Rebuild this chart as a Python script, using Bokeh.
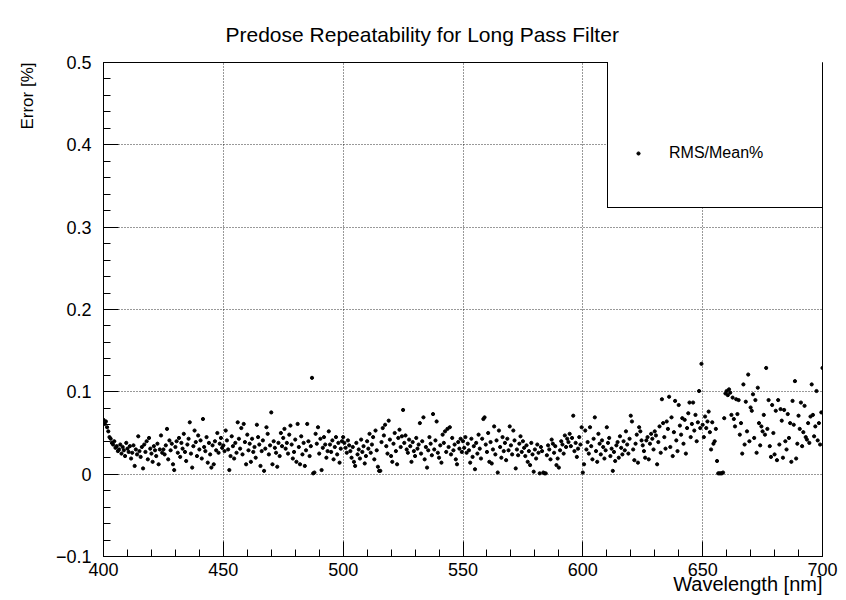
import numpy as np
from bokeh.plotting import figure
from bokeh.models import Range1d, FixedTicker, Legend, LegendItem, Title
from bokeh.embed import file_html
from bokeh.resources import INLINE

# wavelength grid (nm), 0.5 nm step
wavelength = np.arange(400.0, 700.01, 0.5)

# RMS/Mean%, in 25 nm blocks
rms_400 = [0.066,0.061,0.064,0.057,0.052,0.045,0.043,0.038,0.036,0.040,
           0.032,0.034,0.028,0.030,0.036,0.025,0.033,0.029,0.022,0.038,
           0.031,0.027,0.034,0.019,0.026,0.035,0.010,0.030,0.024,0.046,
           0.028,0.021,0.033,0.007,0.036,0.027,0.040,0.018,0.044,0.031,
           0.025,0.015,0.034,0.029,0.022,0.037,0.012,0.030,0.047,0.026]
rms_425 = [0.030,0.024,0.035,0.055,0.018,0.041,0.029,0.037,0.012,0.005,
           0.033,0.040,0.026,0.044,0.021,0.038,0.031,0.049,0.027,0.016,
           0.036,0.043,0.063,0.025,0.008,0.034,0.053,0.039,0.022,0.047,
           0.030,0.041,0.019,0.067,0.033,0.028,0.045,0.014,0.038,0.024,
           0.008,0.035,0.012,0.040,0.029,0.050,0.026,0.037,0.044,0.032]
rms_450 = [0.035,0.028,0.053,0.041,0.030,0.005,0.022,0.046,0.034,0.019,
           0.038,0.026,0.063,0.043,0.031,0.056,0.024,0.061,0.039,0.012,
           0.048,0.029,0.037,0.015,0.043,0.027,0.033,0.020,0.060,0.045,
           0.036,0.010,0.028,0.041,0.004,0.031,0.057,0.049,0.024,0.035,
           0.075,0.012,0.040,0.032,0.026,0.009,0.038,0.022,0.050,0.034]
rms_475 = [0.044,0.055,0.031,0.038,0.025,0.048,0.059,0.036,0.019,0.027,
           0.042,0.015,0.061,0.033,0.012,0.046,0.024,0.038,0.010,0.029,
           0.061,0.040,0.022,0.034,0.117,0.001,0.002,0.049,0.037,0.057,
           0.025,0.043,0.005,0.032,0.045,0.036,0.020,0.028,0.052,0.036,
           0.027,0.041,0.018,0.033,0.045,0.024,0.038,0.014,0.031,0.040]
rms_500 = [0.045,0.038,0.032,0.026,0.041,0.035,0.028,0.020,0.033,0.015,
           0.010,0.038,0.024,0.030,0.019,0.042,0.027,0.034,0.013,0.022,
           0.040,0.031,0.049,0.026,0.036,0.045,0.018,0.053,0.029,0.009,
           0.004,0.004,0.039,0.056,0.047,0.060,0.034,0.025,0.065,0.042,
           0.022,0.015,0.037,0.050,0.028,0.012,0.044,0.054,0.033,0.046]
rms_525 = [0.078,0.038,0.047,0.030,0.026,0.042,0.034,0.015,0.039,0.028,
           0.022,0.044,0.031,0.036,0.062,0.025,0.040,0.069,0.018,0.033,
           0.008,0.029,0.045,0.037,0.023,0.073,0.030,0.041,0.064,0.026,
           0.020,0.035,0.014,0.048,0.038,0.052,0.027,0.055,0.033,0.057,
           0.024,0.044,0.029,0.036,0.018,0.012,0.039,0.031,0.043,0.027]
rms_550 = [0.040,0.032,0.045,0.026,0.037,0.029,0.014,0.043,0.021,0.034,
           0.006,0.038,0.025,0.048,0.031,0.019,0.043,0.067,0.069,0.036,
           0.027,0.050,0.015,0.039,0.013,0.030,0.058,0.024,0.041,0.002,
           0.053,0.033,0.020,0.045,0.028,0.038,0.017,0.043,0.029,0.058,
           0.035,0.024,0.053,0.041,0.007,0.030,0.023,0.037,0.046,0.027]
rms_575 = [0.040,0.032,0.022,0.035,0.015,0.028,0.011,0.038,0.024,0.003,
           0.030,0.019,0.036,0.026,0.001,0.033,0.028,0.002,0.001,0.001,
           0.023,0.035,0.030,0.018,0.042,0.037,0.026,0.034,0.011,0.019,
           0.008,0.029,0.040,0.036,0.025,0.047,0.033,0.043,0.039,0.049,
           0.034,0.044,0.071,0.028,0.038,0.021,0.031,0.045,0.036,0.057]
rms_600 = [0.002,0.012,0.053,0.030,0.039,0.025,0.057,0.034,0.018,0.043,
           0.069,0.028,0.015,0.049,0.037,0.024,0.041,0.033,0.019,0.029,
           0.057,0.038,0.044,0.022,0.031,0.004,0.027,0.016,0.035,0.039,
           0.020,0.046,0.032,0.024,0.040,0.029,0.052,0.036,0.025,0.043,
           0.071,0.064,0.030,0.017,0.037,0.048,0.014,0.057,0.052,0.041]
rms_625 = [0.035,0.028,0.020,0.041,0.045,0.018,0.037,0.049,0.043,0.030,
           0.052,0.047,0.012,0.039,0.058,0.026,0.091,0.062,0.045,0.031,
           0.064,0.055,0.094,0.033,0.069,0.022,0.051,0.089,0.041,0.028,
           0.084,0.059,0.048,0.068,0.037,0.066,0.025,0.056,0.074,0.087,
           0.045,0.061,0.087,0.053,0.072,0.040,0.063,0.101,0.056,0.134]
rms_650 = [0.060,0.045,0.070,0.056,0.064,0.076,0.051,0.030,0.063,0.037,
           0.040,0.055,0.016,0.001,0.001,0.001,0.001,0.002,0.068,0.098,
           0.101,0.096,0.103,0.099,0.072,0.093,0.067,0.058,0.091,0.073,
           0.090,0.048,0.062,0.025,0.109,0.036,0.088,0.052,0.121,0.040,
           0.081,0.077,0.097,0.044,0.090,0.026,0.105,0.062,0.035,0.058]
rms_675 = [0.052,0.072,0.048,0.129,0.055,0.090,0.034,0.021,0.084,0.050,
           0.024,0.077,0.017,0.090,0.036,0.079,0.065,0.020,0.078,0.040,
           0.030,0.073,0.044,0.062,0.015,0.089,0.060,0.113,0.019,0.037,
           0.071,0.055,0.087,0.034,0.051,0.083,0.045,0.042,0.062,0.038,
           0.070,0.109,0.072,0.046,0.058,0.101,0.041,0.062,0.036,0.075,
           0.129]

rms = (rms_400 + rms_425 + rms_450 + rms_475 + rms_500 + rms_525 +
       rms_550 + rms_575 + rms_600 + rms_625 + rms_650 + rms_675)

x_ticks = [400, 450, 500, 550, 600, 650, 700]
y_ticks = [-0.1, 0.0, 0.1, 0.2, 0.3, 0.4, 0.5]
y_tick_labels = ["\u22120.1", "0", "0.1", "0.2", "0.3", "0.4", "0.5"]

FONT = "Liberation Sans"

p = figure(width=846, height=600, output_backend="svg", toolbar_location=None,
           x_range=Range1d(400, 700), y_range=Range1d(-0.1, 0.5),
           min_border_left=103, min_border_right=24,
           min_border_top=62, min_border_bottom=44)
p.background_fill_color = "white"
p.border_fill_color = "white"
p.outline_line_color = "black"
p.outline_line_width = 1

p.title.text = "Predose Repeatability for Long Pass Filter"
p.title.align = "left"
p.title.offset = 122
p.title.text_font = FONT
p.title.text_font_size = "21px"
p.title.text_font_style = "normal"
p.title.text_color = "black"
p.title.standoff = 33

r = p.scatter(wavelength, rms, size=3.2, marker="circle", color="black")

for ax in (p.xaxis[0], p.yaxis[0]):
    ax.axis_line_color = "black"
    ax.major_tick_line_color = "black"
    ax.minor_tick_line_color = "black"
    ax.major_tick_out = 0
    ax.minor_tick_out = 0
    ax.major_label_text_font = FONT
    ax.major_label_text_font_size = "18px"
    ax.major_label_text_color = "black"

p.xaxis.ticker = FixedTicker(ticks=x_ticks, minor_ticks=list(np.arange(400, 701, 10)))
p.xaxis.major_tick_in = 15
p.xaxis.minor_tick_in = 7
p.xaxis.major_label_standoff = 6

p.yaxis.ticker = FixedTicker(ticks=y_ticks, minor_ticks=list(np.round(np.arange(-0.1, 0.501, 0.02), 3)))
p.yaxis.major_tick_in = 15
p.yaxis.minor_tick_in = 7
p.yaxis.major_label_standoff = 12
p.yaxis.major_label_overrides = {t: s for t, s in zip(y_ticks, y_tick_labels)}

x_title = Title(text="Wavelength [nm]", align="right", text_font=FONT,
                text_font_size="20px", text_font_style="normal", text_color="black")
try:
    x_title.standoff = -16
except Exception:
    x_title.standoff = 0
p.add_layout(x_title, "below")

y_title = Title(text="Error [%]", align="right", text_font=FONT,
                text_font_size="17px", text_font_style="normal", text_color="black",
                standoff=31)
p.add_layout(y_title, "left")

for g in (p.xgrid[0], p.ygrid[0]):
    g.grid_line_color = "black"
    g.grid_line_dash = "1 2"
    g.grid_line_width = 1
    g.grid_line_alpha = 0.8

legend = Legend(items=[LegendItem(label="RMS/Mean%", renderers=[r])],
                location=(504, 348), orientation="vertical",
                padding=26, spacing=0, margin=0,
                glyph_width=8, glyph_height=56, label_width=132, label_height=56,
                label_standoff=27,
                border_line_color="black", border_line_width=1, border_line_alpha=1,
                background_fill_color="white", background_fill_alpha=1.0,
                label_text_font=FONT, label_text_font_size="16px", label_text_color="black",
                title=" ", title_text_font_size="16px", title_standoff=37)
p.add_layout(legend)

open("out.html", "w").write(file_html(p, INLINE))
